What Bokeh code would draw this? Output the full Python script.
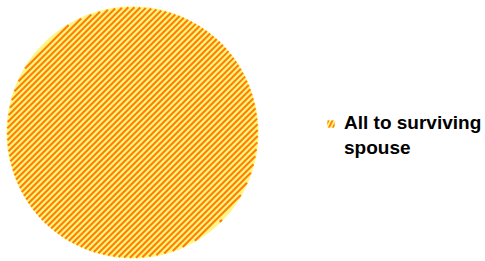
import math
from bokeh.plotting import figure
from bokeh.models import ColumnDataSource, Legend, LegendItem, Range1d
from bokeh.embed import file_html
from bokeh.resources import INLINE

categories = ["All to surviving spouse"]
legend_lines = ["All to surviving", "spouse"]
values = [100.0]

total = sum(values)
starts, ends = [], []
acc = 0.0
for v in values:
    a0 = math.pi / 2 - 2 * math.pi * (acc + v) / total
    a1 = math.pi / 2 - 2 * math.pi * acc / total
    if a1 - a0 >= 2 * math.pi - 1e-9:
        a0 += 1e-4  # avoid zero-length arc in svg backend
    starts.append(a0)
    ends.append(a1)
    acc += v

W, H = 485, 261
CX, CY, R = 132, H - 132, 126
FILL, HATCH = "#FFF584", "#FF8000"

src = ColumnDataSource(dict(cat=categories, val=values, start=starts, end=ends,
                            x=[CX] * len(values), y=[CY] * len(values),
                            zero=[0] * len(values)))

p = figure(width=W, height=H, output_backend="svg", toolbar_location=None,
           x_range=Range1d(0, W), y_range=Range1d(0, H), min_border=0,
           outline_line_color=None)
p.axis.visible = False
p.grid.visible = False
p.background_fill_color = "white"
p.border_fill_color = "white"

r = p.wedge(x="x", y="y", radius=R, radius_units="data",
            start_angle="start", end_angle="end", source=src,
            fill_color=FILL, line_color=None)

# 45-degree "/" hatch texture of the (single, full) slice: chords of the circle
period, lw = 6.0, 2.1
hx0, hy0, hx1, hy1 = [], [], [], []
dmax = R * math.sqrt(2)
d = -dmax + 1.5
while d < dmax:
    dist_outer = abs(d) / math.sqrt(2) + lw / 2
    if dist_outer < R:
        half = math.sqrt(R * R - dist_outer * dist_outer)
        mx, my = CX - d / 2, CY + d / 2
        k = half / math.sqrt(2)
        hx0.append(mx - k); hy0.append(my - k)
        hx1.append(mx + k); hy1.append(my + k)
    d += period
p.segment(hx0, hy0, hx1, hy1, line_color=HATCH, line_width=lw, line_cap="butt")

# legend swatch (zero radius, so it draws nothing on the plot)
swatch = p.wedge(x="x", y="y", radius="zero", radius_units="screen",
                 start_angle="start", end_angle="end", source=src,
                 fill_color=FILL, line_color=None,
                 hatch_pattern="/", hatch_color=HATCH, hatch_scale=8, hatch_weight=1.8)
# invisible renderer used only to carry the legend's second text line
blank = p.wedge(x="x", y="y", radius="zero", radius_units="screen",
                start_angle="start", end_angle="end", source=src,
                fill_alpha=0, line_alpha=0)

legend = Legend(items=[LegendItem(label=legend_lines[0], renderers=[swatch]),
                       LegendItem(label=legend_lines[1], renderers=[blank])],
                location=(326, 102), padding=0, margin=0, border_line_color=None,
                background_fill_alpha=0, glyph_width=9, glyph_height=9,
                label_standoff=9, label_text_font="Liberation Sans",
                label_text_font_style="bold", label_text_font_size="19px",
                label_text_color="black", spacing=3)
p.add_layout(legend, "center")

open("out.html", "w").write(file_html(p, INLINE))
